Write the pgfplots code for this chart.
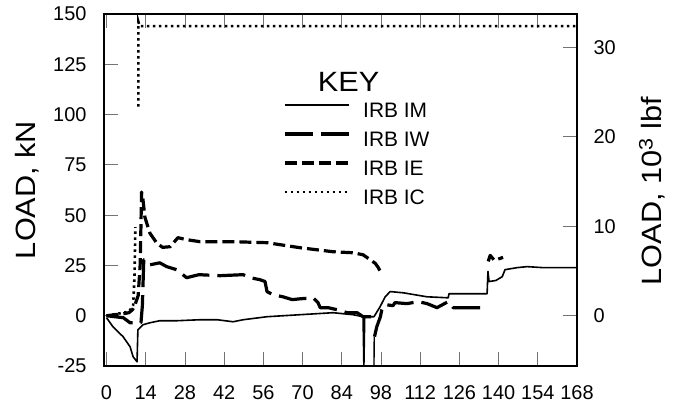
\documentclass[border=0pt]{standalone}
\usepackage{fontspec}
\setmainfont{Liberation Sans}
\newfontfamily\labelfont{Liberation Sans}[FakeStretch=1.1]
\usepackage{pgfplots}
\pgfplotsset{compat=1.18}
\begin{document}
\begin{tikzpicture}
\path[use as bounding box] (-104bp,-46bp) rectangle (582bp,366bp);
\begin{axis}[
  scale only axis, width=473bp, height=352bp, at={(0,0)}, anchor=south west,
  xmin=-0.9, xmax=168, ymin=-25, ymax=150,
  xtick={0,14,...,168}, ytick={-25,0,...,150},
  xtick pos=both, ytick pos=left, tick align=inside,
  major tick length=14bp,
  tick style={black!55, line width=0.8bp},
  axis line style={line width=2.2bp},
  unbounded coords=jump,
  /pgf/number format/assume math mode=true,
  ticklabel style={font=\fontsize{20}{24}\selectfont},
  xticklabel style={yshift=-16bp},
  yticklabel style={xshift=-14bp},
  ylabel={LOAD, kN},
  ylabel style={font=\labelfont\fontsize{28}{32}\selectfont, at={(axis description cs:-0.163,0.5)}, anchor=center},
  legend style={at={(axis description cs:0.378,0.748)}, anchor=north west, draw=none, fill=none,
    inner sep=0pt, row sep=10bp, column sep=13bp, font=\fontsize{21}{24}\selectfont,
    nodes={inner xsep=0bp, inner ysep=0bp, text height=15bp, text depth=4bp}},
  legend cell align=left,
  legend image code/.code={\draw[#1] (0bp,7.5bp) -- (64bp,7.5bp);},
]
% IRB IM
\addplot[black, line width=1.6bp, line join=round] coordinates {
(0,-1) (2.3,-5.5) (5.9,-10.4) (8.4,-15.4) (9.5,-20.4) (10.9,-22.9) (11.2,-7)
(13,-4.5) (15.5,-3.5) (19,-2.5) (25,-2.5) (33.4,-2) (39.5,-2) (45.2,-3) (48.8,-2)
(57.3,-0.5) (69.1,0.5) (80.9,1.5) (88,0.5) (91.6,-0.5) (91.9,-25) (92.2,-0.5)
(95.5,-0.5) (97.7,4.5) (99.5,9.4) (101.3,12) (105.9,11.4) (114.5,9.4) (122,8.9)
(122.3,10.9) (135.9,10.9) (136.2,22) (136.6,17) (139,17.5) (141.3,19.4) (142.3,22.9)
(146.6,23.9) (150.2,24.4) (155.9,23.9) (168,23.9)
};
\addlegendentry{IRB IM}
% IRB IW
\addplot[black, line width=3.2bp, line join=round, dash pattern=on 28bp off 8bp] coordinates {
(0,0) (3,-0.5) (6,-1) (8.4,-3.5) (12.3,-3.5) (12.8,5) (13.3,27.8) (14,27.8)
(15.5,25.3) (19,26.3) (21.5,24.4) (25,22.9) (28.6,18.9) (33,20.4) (40.5,19.9)
(48.8,20.4) (51.3,18.9) (54.8,17.9) (56.6,17) (57.3,12) (59.5,10.4) (63,9.4)
(66.3,8) (69.1,8.4) (73.8,8.9) (75.5,6.5) (76.3,4) (79.1,4) (82.3,3) (85.9,1.5)
(89.5,1.5) (91.6,-0.5) (95.3,-0.5)
(95.4,nan)
(95.7,-10.4) (96.5,-5.5) (97.8,-0.5)
(98.3,3) (99.7,5.5) (102.3,5) (103,6.5) (107.3,6) (111.3,7) (114.5,6) (118,4)
(122,7) (123.8,4) (133.4,4)
};
\addlegendentry{IRB IW}
% IRB IE
\addplot[black, line width=3.2bp, line join=round, dash pattern=on 12bp off 5bp] coordinates {
(0,0) (3,0.5) (6,1) (8,1.5) (9.3,3) (10.3,6) (11.3,10) (12,25) (12.3,45) (12.5,61.5)
(13,58) (13.7,49) (15.5,41) (18,36) (20,34) (22.7,34.3) (25.5,38.8) (28.6,37.8)
(33.4,36.8) (45.2,36.8) (57.3,36.3) (69.1,33.8) (80.9,31.8) (88,31.3) (91.6,30.3)
(94,28) (96,26) (97,24) (98.4,20.4)
(120,nan)
(136.3,27) (137,30) (138.5,27.5) (141.6,29)
};
\addlegendentry{IRB IE}
% IRB IC
\addplot[black, line width=2.6bp, dash pattern=on 2.4bp off 3.6bp] coordinates {
(0,0) (4,1) (8,2) (9.5,5) (10,20) (10.3,44)
(11,nan)
(11.4,104) (11.4,146) (11.8,144) (168,144)
};
\addlegendentry{IRB IC}
% IRB IW drop near 95 h (thin trace)
\addplot[black, line width=1.4bp, forget plot] coordinates {(95.5,-25) (95.6,-10.4)};
\node[font=\labelfont\fontsize{28}{32}\selectfont, inner sep=0pt] at (axis description cs:0.517,0.807) {KEY};
\end{axis}
\begin{axis}[
  scale only axis, width=473bp, height=352bp, at={(0,0)}, anchor=south west,
  xmin=-0.9, xmax=168, ymin=-5.6202, ymax=33.7214,
  axis x line=none, axis y line*=right,
  ytick={0,10,20,30}, ytick align=inside,
  major tick length=14bp,
  tick style={black!55, line width=0.8bp},
  axis line style={line width=2.2bp},
  /pgf/number format/assume math mode=true,
  ticklabel style={font=\fontsize{20}{24}\selectfont},
  yticklabel style={xshift=13bp},
  ylabel={LOAD, 10\textsuperscript{3} lbf},
  ylabel style={font=\labelfont\fontsize{28}{32}\selectfont, at={(axis description cs:1.159,0.497)}, anchor=center},
]
\addplot[draw=none] coordinates {(0,0)};
\end{axis}
\end{tikzpicture}
\end{document}
